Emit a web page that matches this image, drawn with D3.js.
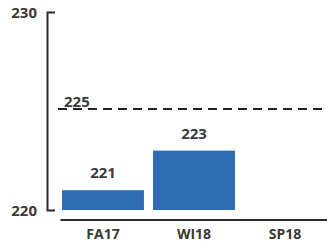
<!DOCTYPE html>
<html>
<head>
<meta charset="utf-8">
<script src="https://cdn.jsdelivr.net/npm/d3@7"></script>
<style>
  html, body { margin: 0; padding: 0; background: #fff; }
  svg { display: block; }
  text { font-family: "Open Sans", sans-serif; font-weight: 700; fill: #3a3a3a; }
</style>
</head>
<body>
<div id="chart"></div>
<script>
const categories = ['FA17', 'WI18', 'SP18']
const values = [221, 223, null]
const yTicks = [220, 230]
const targetValue = 225

const W = 327
const H = 242

const svg = d3.select('#chart').append('svg')
  .attr('width', W)
  .attr('height', H)

const x = d3.scaleBand()
  .domain(categories)
  .range([57.5, 330.5])
  .paddingInner(0.1)
  .paddingOuter(0.05)

const y = d3.scaleLinear()
  .domain([220, 230])
  .range([210, 12])

// ── Y axis (bracket) ───────────────────────────────────────────────
const yAxis = svg.append('g')
  .attr('transform', 'translate(47,0)')
  .call(d3.axisLeft(y).tickValues(yTicks).tickSizeInner(0).tickSizeOuter(-8).tickPadding(10))
yAxis.select('.domain').attr('stroke', '#2a2a2a').attr('stroke-width', 2)
yAxis.selectAll('.tick text').style('font-size', '15px').attr('dy', '0.38em')

// ── Bars ───────────────────────────────────────────────────────────
const data = categories.map((c, i) => ({ cat: c, val: values[i] })).filter(d => d.val != null)

svg.append('g').selectAll('rect')
  .data(data)
  .join('rect')
  .attr('x', d => x(d.cat))
  .attr('width', x.bandwidth())
  .attr('y', d => y(d.val))
  .attr('height', d => y(220) - y(d.val))
  .attr('fill', '#2f6cb2')

svg.append('g').selectAll('text')
  .data(data)
  .join('text')
  .attr('x', d => x(d.cat) + x.bandwidth() / 2)
  .attr('y', d => y(d.val) - 12)
  .attr('text-anchor', 'middle')
  .style('font-size', '15px')
  .text(d => d.val)

// ── X axis ─────────────────────────────────────────────────────────
const xAxis = svg.append('g')
  .attr('transform', `translate(0,${y(220) + 10})`)
  .call(d3.axisBottom(x).tickSize(0).tickSizeOuter(0).tickPadding(9))
xAxis.select('.domain')
  .attr('stroke', '#2a2a2a')
  .attr('stroke-width', 2)
  .attr('d', `M${x.range()[0] + 3},0H${W}`)
xAxis.selectAll('.tick text').style('font-size', '14px')

// ── Target line ────────────────────────────────────────────────────
svg.append('line')
  .attr('x1', 58)
  .attr('x2', W)
  .attr('y1', y(targetValue) - 2)
  .attr('y2', y(targetValue) - 2)
  .attr('stroke', '#222')
  .attr('stroke-width', 2)
  .attr('stroke-dasharray', '9,6')

svg.append('text')
  .attr('x', 64)
  .attr('y', y(targetValue) - 4)
  .style('font-size', '15px')
  .text(targetValue)
</script>
</body>
</html>
